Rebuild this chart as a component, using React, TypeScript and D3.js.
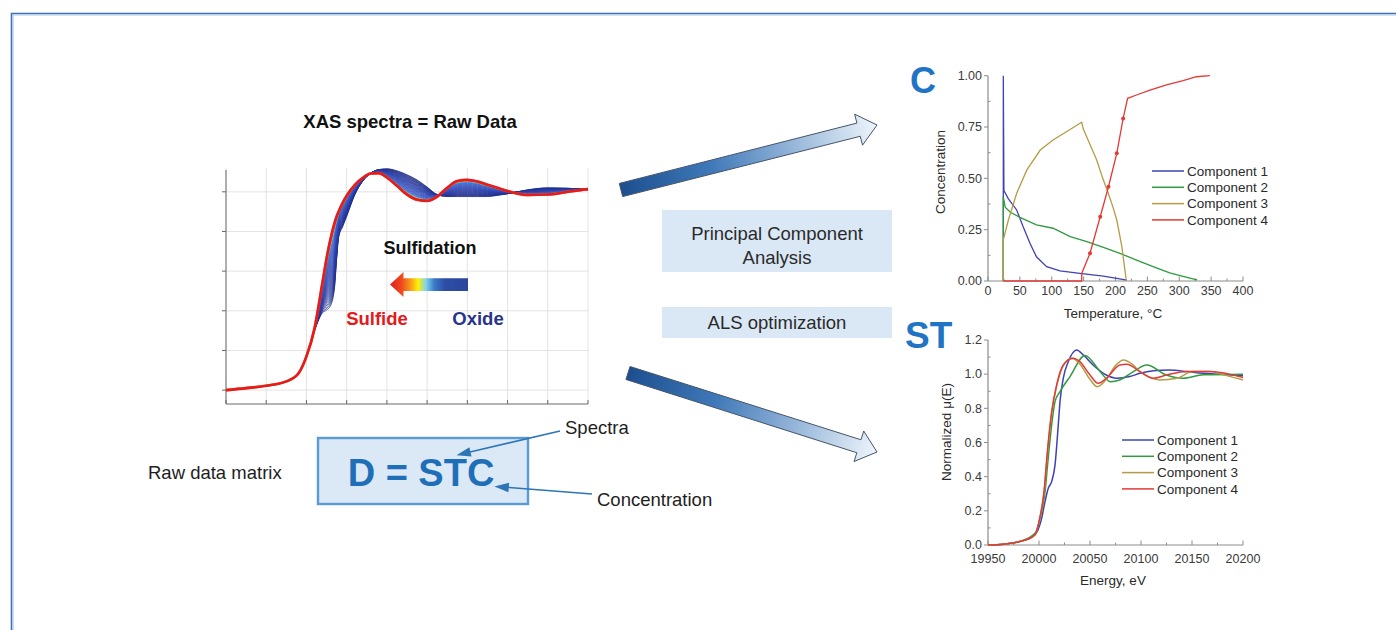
import * as d3 from "d3";
import React from "react";

const FONT = "'Liberation Sans', Arial, Helvetica, sans-serif";

// ---------- left panel: raw XAS spectra (arbitrary energy grid, 9 divisions)
const rawEnergy = [0, 0.5, 1, 1.5, 1.8, 2.0, 2.2, 2.4, 2.5, 2.6, 2.7, 2.75, 2.8, 2.9, 3.0, 3.2, 3.4, 3.6, 3.8, 4.0, 4.25, 4.5, 4.75, 5.0, 5.25, 5.5, 5.75, 6.0, 6.25, 6.5, 6.75, 7.0, 7.5, 8.0, 8.5, 9.0];
const oxideSpectrum = [0, 0.05, 0.11, 0.22, 0.42, 0.85, 1.5, 1.95, 2.02, 2.13, 2.6, 3.3, 3.85, 4.12, 4.38, 4.92, 5.27, 5.47, 5.56, 5.58, 5.53, 5.43, 5.3, 5.12, 4.93, 4.88, 4.88, 4.88, 4.88, 4.88, 4.91, 4.95, 5.05, 5.1, 5.09, 5.05];
const sulfideSpectrum = [0, 0.05, 0.11, 0.22, 0.42, 0.85, 1.55, 2.72, 3.32, 3.82, 4.22, 4.38, 4.5, 4.72, 4.9, 5.17, 5.35, 5.46, 5.47, 5.36, 5.15, 4.93, 4.8, 4.77, 4.88, 5.1, 5.27, 5.3, 5.26, 5.18, 5.1, 5.02, 4.92, 4.93, 5.0, 5.07];
// sulfide fraction of each recorded spectrum (time order)
const sulfideFraction = [0, 0.03, 0.06, 0.09, 0.12, 0.15, 0.18, 0.21, 0.24, 0.27, 0.3, 0.33, 0.36, 0.39, 0.42, 0.45, 0.48, 0.51, 0.54, 0.57, 0.6, 0.63, 0.66, 0.69, 0.72, 0.75, 0.78, 0.81, 0.84, 0.87, 0.9, 0.93, 0.95, 0.97, 0.99, 1.0];
const rawGridX = [0, 1, 2, 3, 4, 5, 6, 7, 8, 9];
const rawGridY = [0, 1, 2, 3, 4, 5];

// ---------- top right: concentration profiles
const temp1 = [24, 24, 25, 32, 45, 55, 66, 76, 92, 113, 144, 181, 218];
const conc1 = [0, 1.0, 0.44, 0.4, 0.346, 0.265, 0.183, 0.118, 0.07, 0.049, 0.037, 0.024, 0.004];
const temp2 = [24, 24, 27, 35, 50, 76, 102, 129, 155, 181, 207, 233, 259, 285, 312, 328];
const conc2 = [0, 0.41, 0.36, 0.335, 0.31, 0.273, 0.257, 0.216, 0.192, 0.164, 0.135, 0.102, 0.07, 0.04, 0.018, 0.005];
const temp3 = [24, 24, 32, 45, 61, 82, 102, 123, 147, 149.5, 160, 170.5, 180, 188.7, 196, 202, 210, 217];
const conc3 = [0, 0.2, 0.297, 0.427, 0.541, 0.638, 0.687, 0.727, 0.773, 0.74, 0.665, 0.589, 0.5, 0.427, 0.36, 0.297, 0.167, 0.0];
const temp4 = [24, 147, 147, 160, 176, 189, 202, 212, 219, 233, 254, 280, 306, 327, 348];
const conc4 = [0, 0, 0.037, 0.135, 0.313, 0.459, 0.622, 0.792, 0.89, 0.906, 0.93, 0.955, 0.976, 0.995, 1.0];
const tempTicks = [0, 50, 100, 150, 200, 250, 300, 350, 400];
const concTicks = [0, 0.25, 0.5, 0.75, 1.0];

// ---------- bottom right: component spectra
const energy1 = [19950, 19965, 19981, 19994, 19999, 20002.6, 20005.9, 20009.1, 20012.4, 20015.7, 20018.9, 20020.6, 20023.8, 20028.7, 20037, 20043.5, 20053, 20066, 20076, 20089, 20099, 20112, 20128, 20145, 20161, 20178, 20200];
const mu1 = [0, 0.005, 0.02, 0.049, 0.088, 0.156, 0.254, 0.332, 0.371, 0.468, 0.703, 0.839, 0.976, 1.073, 1.142, 1.112, 1.054, 0.995, 0.976, 0.986, 1.005, 1.02, 1.025, 1.015, 1.005, 0.999, 0.99];
const energy2 = [19950, 19965, 19981, 19996, 20001, 20005.9, 20009, 20012.4, 20015.7, 20020.6, 20030.4, 20045, 20060, 20070, 20079, 20092.5, 20105.6, 20125, 20141.5, 20161, 20200];
const mu2 = [0, 0.005, 0.02, 0.068, 0.156, 0.312, 0.507, 0.703, 0.839, 0.898, 0.986, 1.11, 1.015, 0.956, 0.966, 1.015, 1.054, 0.995, 0.976, 0.996, 1.0];
const energy3 = [19950, 19965, 19981, 19996, 20001, 20004.9, 20008.2, 20012.4, 20017.3, 20023.8, 20032, 20040, 20050, 20057, 20066, 20075, 20083, 20091, 20099, 20109, 20118.6, 20135, 20151, 20168, 20185, 20200];
const mu3 = [0, 0.005, 0.02, 0.059, 0.16, 0.3, 0.53, 0.77, 0.93, 1.05, 1.093, 1.06, 0.97, 0.927, 0.97, 1.05, 1.083, 1.06, 1.015, 0.98, 0.966, 0.976, 1.015, 1.015, 0.99, 0.966];
const energy4 = [19950, 19965, 19981, 19996, 20001, 20004.9, 20008.2, 20012.4, 20017.3, 20023.8, 20033.6, 20040, 20050, 20058, 20066, 20079.4, 20086, 20099, 20112, 20125, 20145, 20168, 20200];
const mu4 = [0, 0.005, 0.02, 0.059, 0.166, 0.312, 0.546, 0.78, 0.937, 1.054, 1.093, 1.073, 0.995, 0.947, 0.976, 1.054, 1.058, 1.015, 0.976, 0.995, 1.015, 1.015, 0.98];
const energyTicks = [19950, 20000, 20050, 20100, 20150, 20200];
const muTicks = [0, 0.2, 0.4, 0.6, 0.8, 1.0, 1.2];

const componentNames = ["Component 1", "Component 2", "Component 3", "Component 4"];
const componentColors = ["#3f42b4", "#2f9a3f", "#b49c47", "#e23a35"];

const zip = (xs: number[], ys: number[]) => xs.map((x, i) => [x, ys[i]] as [number, number]);

function arrowPoly(x1: number, y1: number, x2: number, y2: number, bh: number, hh: number, hl: number) {
  const dx = x2 - x1, dy = y2 - y1;
  const len = Math.hypot(dx, dy);
  const ux = dx / len, uy = dy / len;
  const nx = -uy, ny = ux;
  const bx = x2 - ux * hl, by = y2 - uy * hl;
  const p = [
    [x1 + nx * bh, y1 + ny * bh],
    [bx + nx * bh, by + ny * bh],
    [bx + nx * hh, by + ny * hh],
    [x2, y2],
    [bx - nx * hh, by - ny * hh],
    [bx - nx * bh, by - ny * bh],
    [x1 - nx * bh, y1 - ny * bh],
  ];
  return p.map((q) => q.join(",")).join(" ");
}

function Axes({ x, y, xTicks, yTicks, xMinor, yMinor, xFmt, yFmt, xLabelDy }: any) {
  const [x0, x1] = x.range();
  const [y0, y1] = y.range();
  const gray = "#8c8c8c";
  return (
    <g fontFamily={FONT} fontSize={12.5} fill="#3a3a3a">
      <line x1={x0} x2={x1} y1={y0} y2={y0} stroke={gray} strokeWidth={1.2} />
      <line x1={x0} x2={x0} y1={y0} y2={y1} stroke={gray} strokeWidth={1.2} />
      {xMinor.map((t: number) => (
        <line key={"xm" + t} x1={x(t)} x2={x(t)} y1={y0} y2={y0 - 2.5} stroke={gray} />
      ))}
      {yMinor.map((t: number) => (
        <line key={"ym" + t} x1={x0} x2={x0 + 2.5} y1={y(t)} y2={y(t)} stroke={gray} />
      ))}
      {xTicks.map((t: number) => (
        <g key={"x" + t}>
          <line x1={x(t)} x2={x(t)} y1={y0} y2={y0 - 4.5} stroke={gray} />
          <text x={x(t)} y={y0 + xLabelDy} textAnchor="middle">{xFmt(t)}</text>
        </g>
      ))}
      {yTicks.map((t: number) => (
        <g key={"y" + t}>
          <line x1={x0 - 4} x2={x0} y1={y(t)} y2={y(t)} stroke={gray} />
          <text x={x0 - 6} y={y(t) + 4.3} textAnchor="end">{yFmt(t)}</text>
        </g>
      ))}
    </g>
  );
}

function Legend({ x, y, dy }: { x: number; y: number; dy: number }) {
  return (
    <g fontFamily={FONT} fontSize={13.5} fill="#2a2a2a">
      {componentNames.map((n, i) => (
        <g key={n}>
          <line x1={x} x2={x + 32} y1={y + i * dy} y2={y + i * dy} stroke={componentColors[i]} strokeWidth={1.5} />
          <text x={x + 35} y={y + i * dy + 4.8}>{n}</text>
        </g>
      ))}
    </g>
  );
}

export default function App() {
  // left raw data plot
  const rx = d3.scaleLinear().domain([0, 9]).range([226, 588]);
  const ry = d3.scaleLinear().domain([-0.35, 5.6]).range([404, 168]);
  const rawLine = d3.line<[number, number]>().x((d) => rx(d[0])).y((d) => ry(d[1])).curve(d3.curveMonotoneX);
  const jet = d3
    .scaleLinear<string>()
    .domain([0, 0.5, 0.86, 0.9, 0.94, 0.97, 1])
    .range(["#1e2a86", "#2b40ad", "#3b63cf", "#34bde2", "#c9e044", "#f7a51f", "#e41a1c"]);
  const mixed = sulfideFraction.map((w) => rawEnergy.map((e, i) => [e, (1 - w) * oxideSpectrum[i] + w * sulfideSpectrum[i]] as [number, number]));

  // concentration plot
  const cx = d3.scaleLinear().domain([0, 400]).range([988, 1243]);
  const cy = d3.scaleLinear().domain([0, 1]).range([281, 75.7]);
  const concLine = d3.line<[number, number]>().x((d) => cx(d[0])).y((d) => cy(d[1]));
  const concSeries = [zip(temp1, conc1), zip(temp2, conc2), zip(temp3, conc3), zip(temp4, conc4)];

  // component spectra plot
  const sx = d3.scaleLinear().domain([19950, 20200]).range([988, 1243]);
  const sy = d3.scaleLinear().domain([0, 1.2]).range([545, 340]);
  const specLine = d3.line<[number, number]>().x((d) => sx(d[0])).y((d) => sy(d[1])).curve(d3.curveMonotoneX);
  const specSeries = [zip(energy1, mu1), zip(energy2, mu2), zip(energy3, mu3), zip(energy4, mu4)];

  const topArrow = arrowPoly(621, 190, 877, 125, 6.8, 16, 19);
  const botArrow = arrowPoly(628, 373, 877, 452, 6.8, 16, 19);

  return (
    <svg width={1396} height={630} style={{ position: "absolute", left: 0, top: 0, background: "#fff" }}>
      <defs>
        <linearGradient id="gTop" gradientUnits="userSpaceOnUse" x1={621} y1={190} x2={877} y2={125}>
          <stop offset="0" stopColor="#1d4f8f" />
          <stop offset="0.35" stopColor="#3f78b8" />
          <stop offset="1" stopColor="#eef5fb" />
        </linearGradient>
        <linearGradient id="gBot" gradientUnits="userSpaceOnUse" x1={628} y1={373} x2={877} y2={452}>
          <stop offset="0" stopColor="#1d4f8f" />
          <stop offset="0.35" stopColor="#3f78b8" />
          <stop offset="1" stopColor="#eef5fb" />
        </linearGradient>
        <linearGradient id="gSulf" gradientUnits="userSpaceOnUse" x1={390} y1={0} x2={468} y2={0}>
          <stop offset="0" stopColor="#e01b22" />
          <stop offset="0.15" stopColor="#f0491f" />
          <stop offset="0.27" stopColor="#f7a11b" />
          <stop offset="0.36" stopColor="#fff200" />
          <stop offset="0.46" stopColor="#7fd3ee" />
          <stop offset="0.57" stopColor="#3a78c8" />
          <stop offset="0.7" stopColor="#2d4ea6" />
          <stop offset="1" stopColor="#2b459c" />
        </linearGradient>
      </defs>

      {/* frame */}
      <path d="M11.5,640 V13.5 H1400" fill="none" stroke="#3c70b8" strokeWidth={1.6} />
      <path d="M13,640 V15 H1400" fill="none" stroke="#a9c9ea" strokeWidth={1.2} />

      {/* ---------- left: raw data */}
      <text x={410} y={128} textAnchor="middle" fontFamily={FONT} fontWeight="bold" fontSize={18.5} fill="#111">
        XAS spectra = Raw Data
      </text>
      <g>
        {rawGridX.map((g) => (
          <line key={"gx" + g} x1={rx(g)} x2={rx(g)} y1={168} y2={404} stroke="#dcdcdc" strokeWidth={0.8} />
        ))}
        {rawGridY.map((g) => (
          <line key={"gy" + g} x1={226} x2={588} y1={ry(g)} y2={ry(g)} stroke="#dcdcdc" strokeWidth={0.8} />
        ))}
        <line x1={226} x2={226} y1={170} y2={404} stroke="#6a6a6a" strokeWidth={1} />
        <line x1={226} x2={588} y1={404} y2={404} stroke="#6a6a6a" strokeWidth={1} />
        {rawGridX.map((g) => (
          <line key={"tx" + g} x1={rx(g)} x2={rx(g)} y1={404} y2={400} stroke="#6a6a6a" />
        ))}
        {rawGridY.map((g) => (
          <line key={"ty" + g} x1={222} x2={226} y1={ry(g)} y2={ry(g)} stroke="#6a6a6a" />
        ))}
      </g>
      <g fill="none">
        {mixed.map((s, i) => {
          const w = sulfideFraction[i];
          return (
            <path key={"sp" + i} d={rawLine(s) || ""} stroke={jet(w)} strokeWidth={w >= 0.99 ? 2.6 : w > 0.9 ? 1.1 : 0.8} strokeOpacity={0.95} />
          );
        })}
      </g>
      <text x={430} y={254} textAnchor="middle" fontFamily={FONT} fontWeight="bold" fontSize={18} fill="#111">
        Sulfidation
      </text>
      <polygon points="390,284.5 403.5,272 403.5,278.3 468,278.3 468,291 403.5,291 403.5,297" fill="url(#gSulf)" />
      <text x={377} y={324.5} textAnchor="middle" fontFamily={FONT} fontWeight="bold" fontSize={18.5} fill="#e3191c">
        Sulfide
      </text>
      <text x={478} y={324.5} textAnchor="middle" fontFamily={FONT} fontWeight="bold" fontSize={18.5} fill="#27348b">
        Oxide
      </text>

      {/* ---------- D = STC */}
      <text x={148} y={479} fontFamily={FONT} fontSize={18.5} fill="#1e1e1e">Raw data matrix</text>
      <rect x={318} y={438} width={210} height={66} fill="#dbe9f7" stroke="#5b9bd5" strokeWidth={2.4} />
      <text x={421} y={486} textAnchor="middle" fontFamily={FONT} fontWeight="bold" fontSize={38} fill="#1f6fb8">
        D = STC
      </text>
      <text x={565} y={434} fontFamily={FONT} fontSize={18.5} fill="#1e1e1e">Spectra</text>
      <text x={597} y={506} fontFamily={FONT} fontSize={18.5} fill="#1e1e1e">Concentration</text>
      <g stroke="#2e75b6" strokeWidth={1.6} fill="#2e75b6">
        <line x1={560} y1={431} x2={470} y2={452} />
        <polygon points={arrowPoly(470, 452, 459, 454.6, 0, 3.6, 11)} />
        <line x1={592} y1={494} x2={509} y2={487.5} />
        <polygon points={arrowPoly(509, 487.5, 497, 486.6, 0, 3.6, 11)} />
      </g>

      {/* ---------- middle */}
      <polygon points={topArrow} fill="url(#gTop)" stroke="#44546a" strokeWidth={1} />
      <polygon points={botArrow} fill="url(#gBot)" stroke="#44546a" strokeWidth={1} />
      <rect x={662} y={210} width={230} height={62} fill="#dae8f5" />
      <text x={777} y={240} textAnchor="middle" fontFamily={FONT} fontSize={18.5} fill="#2a2a2a">Principal Component</text>
      <text x={777} y={264} textAnchor="middle" fontFamily={FONT} fontSize={18.5} fill="#2a2a2a">Analysis</text>
      <rect x={662} y={307} width={230} height={31} fill="#dae8f5" />
      <text x={777} y={329} textAnchor="middle" fontFamily={FONT} fontSize={18.5} fill="#2a2a2a">ALS optimization</text>

      {/* ---------- top right: C */}
      <text x={910} y={93} fontFamily={FONT} fontWeight="bold" fontSize={36} fill="#1f74c4">C</text>
      <Axes
        x={cx}
        y={cy}
        xTicks={tempTicks}
        yTicks={concTicks}
        xMinor={[25, 75, 125, 175, 225, 275, 325, 375]}
        yMinor={[0.125, 0.375, 0.625, 0.875]}
        xFmt={(t: number) => String(t)}
        yFmt={d3.format(".2f")}
        xLabelDy={14}
      />
      <g fill="none">
        {concSeries.map((s, i) => (
          <path key={"c" + i} d={concLine(s) || ""} stroke={componentColors[i]} strokeWidth={1.3} />
        ))}
      </g>
      {zip(temp4, conc4)
        .slice(3, 8)
        .map((d, i) => (
          <circle key={"m" + i} cx={cx(d[0])} cy={cy(d[1])} r={2} fill={componentColors[3]} />
        ))}
      <text transform="translate(945,172) rotate(-90)" textAnchor="middle" fontFamily={FONT} fontSize={13.5} fill="#2a2a2a">
        Concentration
      </text>
      <text x={1113} y={318} textAnchor="middle" fontFamily={FONT} fontSize={13.5} fill="#2a2a2a">
        Temperature, °C
      </text>
      <Legend x={1152} y={171} dy={16.3} />

      {/* ---------- bottom right: ST */}
      <text x={905} y={348} fontFamily={FONT} fontWeight="bold" fontSize={37} fill="#1f74c4">ST</text>
      <Axes
        x={sx}
        y={sy}
        xTicks={energyTicks}
        yTicks={muTicks}
        xMinor={[19975, 20025, 20075, 20125, 20175]}
        yMinor={[0.1, 0.3, 0.5, 0.7, 0.9, 1.1]}
        xFmt={(t: number) => String(t)}
        yFmt={d3.format(".1f")}
        xLabelDy={17.5}
      />
      <g fill="none">
        {specSeries.map((s, i) => (
          <path key={"s" + i} d={specLine(s) || ""} stroke={componentColors[i]} strokeWidth={1.5} />
        ))}
      </g>
      <text transform="translate(951,432) rotate(-90)" textAnchor="middle" fontFamily={FONT} fontSize={13.5} fill="#2a2a2a">
        Normalized μ(E)
      </text>
      <text x={1113} y={585} textAnchor="middle" fontFamily={FONT} fontSize={13.5} fill="#2a2a2a">
        Energy, eV
      </text>
      <Legend x={1122} y={440} dy={16.3} />
    </svg>
  );
}
